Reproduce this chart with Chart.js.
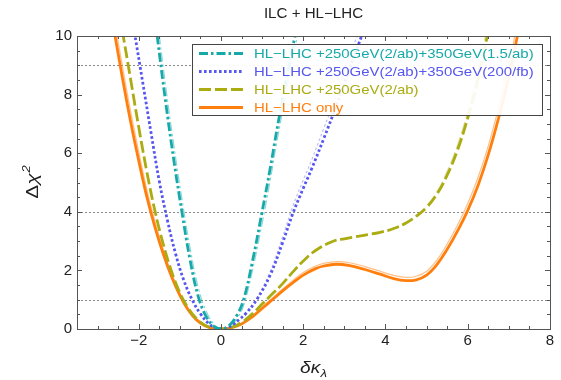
<!DOCTYPE html>
<html>
<head>
<meta charset="utf-8">
<script src="https://cdn.jsdelivr.net/npm/chart.js@4.4.1/dist/chart.umd.min.js"></script>
<style>
html, body { margin: 0; padding: 0; background: #fff; }
</style>
</head>
<body>
<canvas id="chart" width="561" height="380"></canvas>
<script>
// axis ticks and reference levels
const xTicks = [-2, 0, 2, 4, 6, 8];
const yTicks = [0, 2, 4, 6, 8, 10];
const refLevels = [1, 4, 9];

const seriesLabels = [
    'HL\u2212LHC +250GeV(2/ab)+350GeV(1.5/ab)',
    'HL\u2212LHC +250GeV(2/ab)+350GeV(200/fb)',
    'HL\u2212LHC +250GeV(2/ab)',
    'HL\u2212LHC only'
];

// HL-LHC +250 +350 (1.5/ab)
const cyanX = [-1.7, -1.55, -1.35, -1.15, -0.95, -0.75, -0.55, -0.35, -0.15, 0, 0.2, 0.4, 0.55, 0.75, 1.0, 1.2, 1.36, 1.6, 1.8, 2.0];
const cyanY = [11.8, 10.0, 7.8, 5.8, 4.0, 2.35, 1.1, 0.4, 0.07, 0, 0.12, 0.5, 1.0, 2.2, 4.0, 5.5, 6.8, 8.6, 10.0, 11.4];
const cyanThin = [12.4, 10.6, 8.35, 6.3, 4.45, 2.75, 1.4, 0.58, 0.13, 0.01, 0.07, 0.38, 0.8, 1.9, 3.6, 5.1, 6.4, 8.2, 9.6, 11.0];

// HL-LHC +250 +350 (200/fb)
const blueX = [-2.3, -2.1, -1.9, -1.7, -1.5, -1.3, -1.1, -0.9, -0.7, -0.5, -0.3, -0.15, 0, 0.15, 0.3, 0.45, 0.6, 0.87, 1.2, 1.5, 1.75, 2.0, 2.2, 2.5, 2.8, 3.1, 3.42, 3.7];
const blueY = [11.8, 10.1, 8.4, 6.7, 5.05, 3.7, 2.55, 1.65, 1.0, 0.52, 0.19, 0.05, 0, 0.04, 0.16, 0.33, 0.52, 1.0, 1.85, 2.95, 3.95, 4.8, 5.45, 6.5, 7.6, 8.8, 10.0, 11.1];
const blueThin = [11.8, 10.1, 8.4, 6.7, 5.05, 3.7, 2.55, 1.65, 1.0, 0.52, 0.19, 0.05, 0, 0.04, 0.17, 0.35, 0.55, 1.05, 1.97, 3.15, 4.2, 5.08, 5.75, 6.85, 7.95, 9.2, 10.4, 11.5];

// HL-LHC +250GeV
const oliveX = [-2.6, -2.4, -2.2, -2.0, -1.8, -1.6, -1.4, -1.2, -1.0, -0.8, -0.6, -0.4, -0.2, 0, 0.25, 0.5, 0.75, 1.0, 1.25, 1.5, 1.75, 2.0, 2.3, 2.7, 3.0, 3.4, 3.87, 4.2, 4.5, 4.75, 5.0, 5.25, 5.5, 5.75, 6.0, 6.25, 6.46, 6.7];
const oliveY = [11.8, 10.2, 8.55, 6.9, 5.35, 4.0, 2.88, 1.96, 1.24, 0.72, 0.36, 0.14, 0.03, 0, 0.05, 0.22, 0.5, 0.85, 1.2, 1.55, 1.95, 2.32, 2.68, 2.98, 3.08, 3.18, 3.3, 3.43, 3.62, 3.85, 4.15, 4.6, 5.25, 6.1, 7.2, 8.5, 9.9, 11.5];
const oliveThin = [11.8, 10.2, 8.55, 6.9, 5.35, 4.0, 2.88, 1.96, 1.24, 0.72, 0.36, 0.14, 0.03, 0, 0.05, 0.22, 0.5, 0.85, 1.2, 1.55, 1.95, 2.32, 2.68, 2.98, 3.08, 3.18, 3.3, 3.43, 3.62, 3.87, 4.2, 4.68, 5.38, 6.27, 7.42, 8.78, 10.2, 11.8];

// HL-LHC only
const orangeX = [-2.8, -2.6, -2.4, -2.2, -2.0, -1.8, -1.6, -1.4, -1.2, -1.0, -0.8, -0.6, -0.4, -0.2, 0, 0.25, 0.5, 0.75, 1.0, 1.25, 1.5, 1.75, 2.0, 2.3, 2.5, 2.8, 3.1, 3.5, 3.87, 4.2, 4.5, 4.75, 5.0, 5.25, 5.5, 5.75, 6.0, 6.25, 6.5, 6.75, 7.0, 7.2, 7.4];
const orangeY = [11.8, 10.2, 8.6, 7.1, 5.75, 4.5, 3.45, 2.55, 1.78, 1.15, 0.66, 0.32, 0.12, 0.025, 0, 0.04, 0.17, 0.4, 0.7, 1.0, 1.3, 1.58, 1.84, 2.06, 2.15, 2.21, 2.17, 2.03, 1.87, 1.72, 1.65, 1.68, 1.84, 2.2, 2.72, 3.34, 4.05, 4.9, 5.95, 7.2, 8.6, 9.95, 11.3];
const orangeThin = [12.2, 10.6, 9.0, 7.45, 6.05, 4.75, 3.65, 2.7, 1.9, 1.23, 0.71, 0.35, 0.13, 0.03, 0, 0.05, 0.19, 0.43, 0.75, 1.06, 1.37, 1.66, 1.93, 2.15, 2.24, 2.3, 2.27, 2.13, 1.97, 1.83, 1.76, 1.8, 1.97, 2.35, 2.9, 3.54, 4.28, 5.17, 6.25, 7.55, 9.0, 10.4, 11.8];

const FONT = '"Liberation Sans", Arial, sans-serif';

function pts(xs, ys) {
    return xs.map((x, i) => ({ x: x, y: ys[i] }));
}

function minusSign(v) {
    return String(v).replace('-', '\u2212');
}

// thick curve + faint companion line
function thick(label, xs, ys, color, dash) {
    return { label: label, legend: true, data: pts(xs, ys), borderColor: color, borderWidth: 2.8, borderDash: dash };
}
function thin(xs, ys, color, dash) {
    return { label: '', legend: false, data: pts(xs, ys), borderColor: color, borderWidth: 1.2, borderDash: dash };
}

const DASH_CYAN = [9, 3, 2.5, 3];
const DASH_BLUE = [2.6, 2.4];
const DASH_OLIVE = [12, 4];

const datasets = [
    thick(seriesLabels[0], cyanX, cyanY, '#17a9a9', DASH_CYAN),
    thick(seriesLabels[1], blueX, blueY, '#5656f0', DASH_BLUE),
    thick(seriesLabels[2], oliveX, oliveY, '#abab12', DASH_OLIVE),
    thick(seriesLabels[3], orangeX, orangeY, '#ff7f0e', []),
    thin(cyanX, cyanThin, 'rgba(23,169,169,0.5)', DASH_CYAN),
    thin(blueX, blueThin, 'rgba(86,86,240,0.4)', DASH_BLUE),
    thin(oliveX, oliveThin, 'rgba(171,171,18,0.4)', DASH_OLIVE),
    thin(orangeX, orangeThin, 'rgba(255,127,14,0.5)', [])
];

function stretchText(ctx, str, x, y, sx, align) {
    ctx.save();
    ctx.translate(x, y);
    ctx.scale(sx, 1);
    ctx.textAlign = align || 'left';
    ctx.fillText(str, 0, 0);
    ctx.restore();
}

// frame, inward ticks, dotted levels, legend box, titles
const decorPlugin = {
    id: 'decor',
    beforeDatasetsDraw(chart) {
        const { ctx, chartArea: a, scales: { y } } = chart;
        ctx.save();
        ctx.strokeStyle = '#8a8a8a';
        ctx.lineWidth = 1;
        ctx.setLineDash([2, 2]);
        refLevels.forEach(v => {
            const py = Math.round(y.getPixelForValue(v)) + 0.5;
            ctx.beginPath();
            ctx.moveTo(a.left, py);
            ctx.lineTo(a.right, py);
            ctx.stroke();
        });
        ctx.restore();
    },
    afterDatasetsDraw(chart) {
        const { ctx, chartArea: a, scales: { x, y } } = chart;
        ctx.save();
        ctx.strokeStyle = '#555';
        ctx.lineWidth = 1;
        ctx.setLineDash([]);

        // ticks along x (bottom and top)
        for (let v = Math.ceil(x.min * 2) / 2; v <= x.max + 1e-9; v += 0.5) {
            const major = xTicks.includes(v);
            const len = major ? 5 : 3;
            const px = Math.round(x.getPixelForValue(v)) + 0.5;
            ctx.beginPath();
            ctx.moveTo(px, a.bottom); ctx.lineTo(px, a.bottom - len);
            ctx.moveTo(px, a.top); ctx.lineTo(px, a.top + len);
            ctx.stroke();
        }
        // ticks along y (left and right)
        for (let v = y.min; v <= y.max + 1e-9; v += 0.5) {
            const major = yTicks.includes(v);
            const len = major ? 5 : 3;
            const py = Math.round(y.getPixelForValue(v)) + 0.5;
            ctx.beginPath();
            ctx.moveTo(a.left, py); ctx.lineTo(a.left + len, py);
            ctx.moveTo(a.right, py); ctx.lineTo(a.right - len, py);
            ctx.stroke();
        }
        ctx.strokeRect(Math.round(a.left) + 0.5, Math.round(a.top) + 0.5,
            Math.round(a.right - a.left), Math.round(a.bottom - a.top));

        // legend
        const bx = 192.5, by = 44.5, bw = 350, bh = 71;
        ctx.fillStyle = 'rgba(255,255,255,0.92)';
        ctx.fillRect(bx, by, bw, bh);
        ctx.strokeStyle = '#444';
        ctx.strokeRect(bx, by, bw, bh);
        ctx.font = '13px ' + FONT;
        ctx.textBaseline = 'middle';
        chart.data.datasets.filter(d => d.legend).forEach((d, i) => {
            const ry = 53.5 + i * 18;
            ctx.strokeStyle = d.borderColor;
            ctx.lineWidth = 2.8;
            ctx.setLineDash(d.borderDash);
            ctx.beginPath();
            ctx.moveTo(199, ry);
            ctx.lineTo(243, ry);
            ctx.stroke();
            ctx.fillStyle = d.borderColor;
            stretchText(ctx, d.label, 254, ry + 0.5, 1.15, 'left');
        });
        ctx.restore();
    },
    afterDraw(chart) {
        const { ctx, chartArea: a } = chart;
        const cx = (a.left + a.right) / 2;
        ctx.save();
        ctx.fillStyle = '#222';
        ctx.textBaseline = 'middle';
        ctx.font = '14px ' + FONT;
        stretchText(ctx, 'ILC + HL\u2212LHC', cx, 14, 1.08, 'center');

        // x title: delta kappa_lambda
        ctx.textBaseline = 'alphabetic';
        ctx.font = 'italic 16px ' + FONT;
        const sx = 1.2;
        const w1 = ctx.measureText('\u03b4\u03ba').width * sx;
        ctx.font = 'italic 11px ' + FONT;
        const w2 = ctx.measureText('\u03bb').width * sx;
        let xs = cx - (w1 + w2) / 2;
        ctx.font = 'italic 16px ' + FONT;
        stretchText(ctx, '\u03b4\u03ba', xs, 373, sx, 'left');
        ctx.font = 'italic 11px ' + FONT;
        stretchText(ctx, '\u03bb', xs + w1, 377, sx, 'left');

        // y title: Delta chi^2
        ctx.translate(38, (a.top + a.bottom) / 2);
        ctx.rotate(-Math.PI / 2);
        const sy = 1.3;
        ctx.font = '16px ' + FONT;
        const d1 = ctx.measureText('\u0394').width * sy;
        ctx.font = 'italic 16px ' + FONT;
        const d2 = ctx.measureText('\u03c7').width * sy;
        ctx.font = 'italic 10px ' + FONT;
        const d3 = ctx.measureText('2').width * sy;
        let ys = -(d1 + d2 + d3) / 2;
        ctx.font = '16px ' + FONT;
        stretchText(ctx, '\u0394', ys, 0, sy, 'left');
        ctx.font = 'italic 16px ' + FONT;
        stretchText(ctx, '\u03c7', ys + d1, 0, sy, 'left');
        ctx.font = 'italic 10px ' + FONT;
        stretchText(ctx, '2', ys + d1 + d2 + 1, -8, sy, 'left');
        ctx.restore();
    }
};

new Chart(document.getElementById('chart'), {
    type: 'line',
    data: { datasets: datasets },
    plugins: [decorPlugin],
    options: {
        responsive: false,
        animation: false,
        layout: { padding: { top: 36, right: 11, left: 0, bottom: 0 } },
        plugins: { legend: { display: false }, title: { display: false }, tooltip: { enabled: false } },
        elements: {
            point: { radius: 0 },
            line: { tension: 0.4, fill: false }
        },
        scales: {
            x: {
                type: 'linear', min: -3.5, max: 8,
                grid: { display: false, drawTicks: false },
                border: { display: false },
                afterFit: s => { s.height = 51; },
                afterBuildTicks: s => { s.ticks = xTicks.map(v => ({ value: v })); },
                ticks: {
                    font: { family: FONT, size: 15 }, color: '#222', padding: 3,
                    maxRotation: 0, autoSkip: false, callback: v => minusSign(v)
                }
            },
            y: {
                type: 'linear', min: 0, max: 10,
                grid: { display: false, drawTicks: false },
                border: { display: false },
                afterFit: s => { s.width = 77; },
                afterBuildTicks: s => { s.ticks = yTicks.map(v => ({ value: v })); },
                ticks: {
                    font: { family: FONT, size: 15 }, color: '#222', padding: 5,
                    callback: v => minusSign(v)
                }
            }
        }
    }
});
</script>
</body>
</html>
